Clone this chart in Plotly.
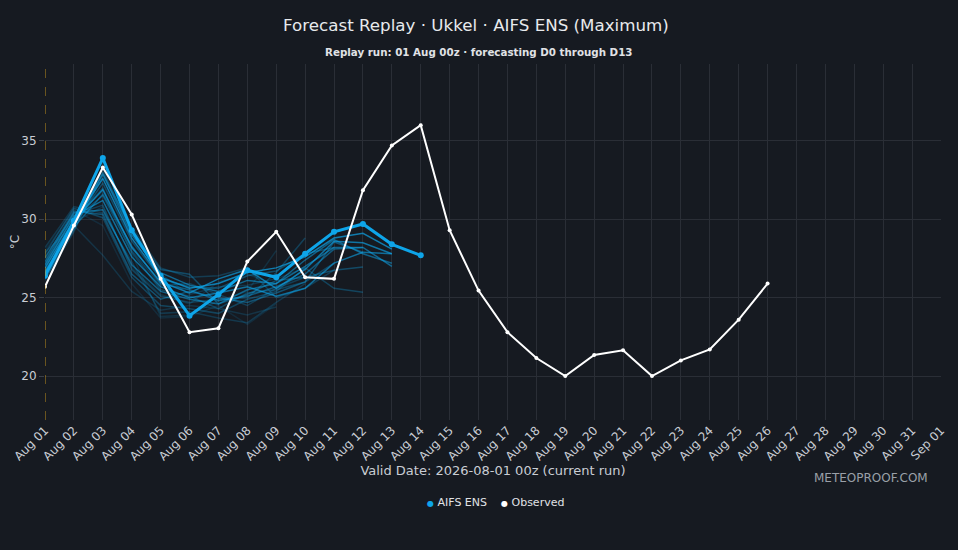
import plotly.graph_objects as go
import pandas as pd

# forecast days Aug 01 .. Aug 14, observed Aug 01 .. Aug 26
fc_dates = pd.date_range("2026-08-01", periods=14, freq="D")
obs_dates = pd.date_range("2026-08-01", periods=26, freq="D")

ens_main = [26.4, 29.9, 33.9, 29.3, 26.4, 23.85, 25.2, 26.75, 26.3, 27.8, 29.2, 29.7, 28.4, 27.7]

observed = [25.7, 29.6, 33.3, 30.3, 26.2, 22.8, 23.05, 27.3, 29.2, 26.3, 26.2, 31.85,
            34.7, 36.0, 29.3, 25.45, 22.8, 21.15, 20.0, 21.35, 21.65, 20.0, 21.0, 21.7,
            23.6, 25.9]

# ensemble members (different lengths), with opacity
members = [
    [26.6, 29.8, 32.6, 28.8, 26.3, 25.6, 25.9, 26.6, 26.9, 27.6, 28.8, 29.1, 28.1],
    [26.9, 29.9, 31.9, 28.2, 26.0, 25.3, 26.2, 26.8, 25.6, 26.8, 28.6, 28.5, 27.8],
    [27.1, 30.2, 31.2, 27.6, 25.7, 25.0, 25.3, 25.7, 25.1, 25.6, 27.2, 27.9, 27.8],
    [26.4, 29.6, 32.9, 29.0, 26.6, 25.8, 25.4, 26.1, 25.9, 27.0, 28.2, 28.2, 27.0],
    [27.3, 30.4, 30.6, 27.1, 25.4, 24.9, 24.6, 25.5, 25.9, 27.4, 28.7, 27.8, 27.2],
    [26.7, 29.5, 31.6, 28.3, 25.9, 25.5, 24.8, 25.1, 25.7, 26.5, 28.1, 28.2],
    [27.5, 30.5, 30.3, 26.5, 24.9, 25.4, 25.0, 24.7, 25.3, 26.0, 28.55, 27.9],
    [26.2, 29.4, 33.0, 29.3, 26.8, 26.5, 24.6, 25.2, 26.1, 26.3, 26.75, 26.96],
    [27.8, 30.7, 30.1, 26.3, 24.5, 24.3, 24.0, 24.9, 25.4, 26.9, 25.6, 25.35],
    [26.5, 29.7, 32.3, 28.6, 26.2, 25.7, 25.6, 26.4, 26.7, 27.8, 28.2],
    [27.0, 30.0, 31.5, 27.9, 25.5, 25.1, 24.3, 25.3, 25.5, 26.0, 27.2],
    [26.3, 29.3, 32.8, 29.5, 26.9, 26.3, 26.4, 26.9, 25.0, 25.6, 26.75],
    [27.6, 30.3, 30.9, 26.8, 25.1, 24.7, 24.9, 25.0, 26.6, 28.8],
    [26.8, 29.9, 32.0, 28.0, 25.8, 25.9, 25.2, 24.5, 25.6, 26.3],
    [28.2, 30.8, 30.4, 27.3, 24.0, 24.1, 23.7, 23.4, 24.7, 25.9],
    [26.1, 29.2, 33.2, 29.2, 26.5, 25.2, 25.7, 25.8, 26.2, 26.9],
    [27.9, 29.6, 27.7, 25.4, 24.2, 24.5, 24.3, 23.9, 24.4],
    [27.2, 30.1, 31.8, 27.8, 23.8, 23.9, 24.8, 25.4, 28.0],
    [26.6, 29.8, 30.8, 26.9, 25.2, 24.6, 26.0, 26.5, 25.8],
    [28.0, 30.6, 29.6, 25.9, 23.7, 23.8, 24.5, 23.3, 24.6],
]
member_alpha = [0.7, 0.65, 0.6, 0.55, 0.5, 0.45, 0.4, 0.35, 0.3, 0.35,
                0.3, 0.25, 0.28, 0.25, 0.22, 0.2, 0.18, 0.16, 0.16, 0.13]

BG = "#161a21"
GRID = "#2a2e36"
BLUE = "#0ea5e9"
FONT = "Verdana, DejaVu Sans"

fig = go.Figure()

for vals, a in zip(members, member_alpha):
    fig.add_trace(go.Scatter(
        x=fc_dates[:len(vals)], y=vals, mode="lines",
        line=dict(color=f"rgba(14,165,233,{a})", width=1.5),
        showlegend=False, hoverinfo="skip"))

fig.add_trace(go.Scatter(
    x=fc_dates, y=ens_main, mode="lines+markers", name="AIFS ENS",
    line=dict(color=BLUE, width=3), marker=dict(size=6, color=BLUE)))

fig.add_trace(go.Scatter(
    x=obs_dates, y=observed, mode="lines+markers", name="Observed",
    line=dict(color="white", width=2), marker=dict(size=4, color="white")))

fig.add_shape(type="line", x0="2026-08-01", x1="2026-08-01", yref="paper", y0=0, y1=1,
              line=dict(color="rgba(218,165,32,0.85)", width=1, dash="dash"))

# page has an 8px body offset, margins compensate for it
fig.update_layout(
    width=958, height=550,
    paper_bgcolor=BG, plot_bgcolor=BG,
    font=dict(family=FONT, color="#c9cdd4", size=12),
    margin=dict(l=37, r=25, t=56, b=138),
    title=dict(text="Forecast Replay · Ukkel · AIFS ENS (Maximum)", xref="paper", x=0.481,
               xanchor="center", y=0.968, yanchor="middle",
               font=dict(size=16.7, color="#e8eaed")),
    showlegend=False,
    hovermode="x unified",
)

fig.add_annotation(text="<b>Replay run: 01 Aug 00z · forecasting D0 through D13</b>",
                   xref="paper", yref="paper", x=0.484, y=1, yanchor="bottom", yshift=4,
                   showarrow=False, font=dict(size=10.3, color="#e0e2e6"))
fig.add_annotation(text="METEOPROOF.COM", xref="paper", yref="paper", x=0.922, y=-0.188,
                   xanchor="center", showarrow=False, font=dict(size=12, color="#9aa0a8"))
# legend, dot + label
fig.add_annotation(
    text=f"<span style='color:{BLUE};font-size:8px'>●</span> AIFS ENS"
         "    <span style='color:white;font-size:8px'>●</span> Observed",
    xref="paper", yref="paper", x=0.503, y=-0.255, xanchor="center", showarrow=False,
    font=dict(size=11, color="#e0e2e6"))

fig.update_xaxes(
    type="date", range=["2026-08-01", "2026-09-01"], dtick=86400000, tickformat="%b %d",
    tickangle=-45, tickfont=dict(size=12), showgrid=True, gridcolor=GRID, zeroline=False,
    automargin=False,
    title=dict(text="Valid Date: 2026-08-01 00z (current run)", font=dict(size=13), standoff=1),
)
fig.update_yaxes(
    range=[17.2, 39.9], dtick=5, showgrid=True, gridcolor=GRID, zeroline=False,
    ticks="outside", ticklen=5, tickcolor="#3a3f48", tickfont=dict(size=12),
    automargin=False,
    title=dict(text="°C", font=dict(size=12), standoff=7),
)

fig.write_html("out.html", post_script=f"document.body.style.background='{BG}';")
